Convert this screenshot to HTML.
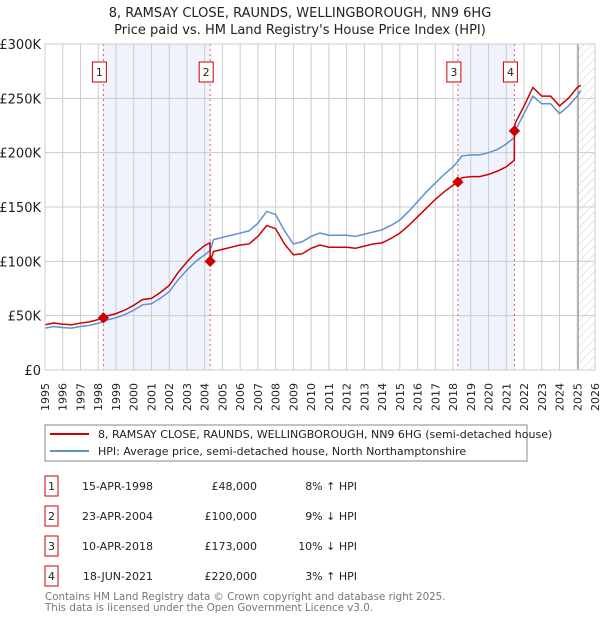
<!DOCTYPE html>
<html><head><meta charset="utf-8"><style>
body{margin:0;background:#fff;font-family:"Liberation Sans","DejaVu Sans",sans-serif;}
svg text{font-family:"DejaVu Sans","Liberation Sans",sans-serif;}
</style></head><body>
<svg id="chart" width="600" height="620" viewBox="0 0 600 620" xmlns="http://www.w3.org/2000/svg">
<defs><pattern id="hatch" width="6" height="6" patternUnits="userSpaceOnUse" patternTransform="rotate(45)"><line x1="0" y1="0" x2="0" y2="6" stroke="#ccc" stroke-width="1"/></pattern></defs>
<text x="300" y="17" text-anchor="middle" font-size="13" fill="#222">8, RAMSAY CLOSE, RAUNDS, WELLINGBOROUGH, NN9 6HG</text>
<text x="300" y="34" text-anchor="middle" font-size="13" fill="#222">Price paid vs. HM Land Registry's House Price Index (HPI)</text>
<g id="plot"></g>
<rect x="45" y="425" width="482" height="36" fill="#fff" stroke="#888"/>
<line x1="50" y1="434" x2="89" y2="434" stroke="#cc0000" stroke-width="2"/>
<text x="98" y="438" font-size="11" fill="#222">8, RAMSAY CLOSE, RAUNDS, WELLINGBOROUGH, NN9 6HG (semi-detached house)</text>
<line x1="50" y1="451" x2="89" y2="451" stroke="#6090d0" stroke-width="2"/>
<text x="98" y="455" font-size="11" fill="#222">HPI: Average price, semi-detached house, North Northamptonshire</text>
<g id="table" font-size="11" fill="#222"></g>
<text x="45" y="600" font-size="10.3" fill="#777">Contains HM Land Registry data © Crown copyright and database right 2025.</text>
<text x="45" y="611" font-size="10.3" fill="#777">This data is licensed under the Open Government Licence v3.0.</text>
</svg>
<script>
const hpiYears=[1995,1995.5,1996,1996.5,1997,1997.5,1998,1998.29,1998.5,1999,1999.5,2000,2000.5,2001,2001.5,2002,2002.5,2003,2003.5,2004,2004.31,2004.5,2005,2005.5,2006,2006.5,2007,2007.5,2008,2008.5,2009,2009.5,2010,2010.5,2011,2011.5,2012,2012.5,2013,2013.5,2014,2014.5,2015,2015.5,2016,2016.5,2017,2017.5,2018,2018.27,2018.5,2019,2019.5,2020,2020.5,2021,2021.46,2021.5,2022,2022.5,2023,2023.5,2024,2024.5,2025,2025.2];
const hpiValues=[38.5,40,39,38.5,40,41,43,44.4,46,48,51,55,60,61,66,72,83,92,100,106,110,120,122,124,126,128,135,146,143,128,116,118,123,126,124,124,124,123,125,127,129,133,138,146,155,164,172,180,187,192,197,198,198,200,203,208,214,220,236,252,245,245,236,243,252,257];
const priceYears=[1995,1995.5,1996,1996.5,1997,1997.5,1998,1998.29,1998.5,1999,1999.5,2000,2000.5,2001,2001.5,2002,2002.5,2003,2003.5,2004,2004.3,2004.31,2004.5,2005,2005.5,2006,2006.5,2007,2007.5,2008,2008.5,2009,2009.5,2010,2010.5,2011,2011.5,2012,2012.5,2013,2013.5,2014,2014.5,2015,2015.5,2016,2016.5,2017,2017.5,2018,2018.27,2018.5,2019,2019.5,2020,2020.5,2021,2021.45,2021.46,2021.5,2022,2022.5,2023,2023.5,2024,2024.5,2025,2025.2];
const priceValues=[41.6,43.2,42.1,41.6,43.2,44.3,46.4,48,49.7,51.9,55.1,59.5,64.9,65.9,71.3,77.8,89.7,99.5,108,114.6,117,100,109,111,113,115,116,123,133,130,116,106,107,112,115,113,113,113,112,114,116,117,121,126,133,141,149,157,164,170,173,177,178,178,180,183,187,193,220,227,243,260,252,252,243,250,260,262];
const saleYears=[1998.29,2004.31,2018.27,2021.46];
const saleValues=[48,100,173,220];
const saleLabels=["1","2","3","4"];
const saleDates=["15-APR-1998","23-APR-2004","10-APR-2018","18-JUN-2021"];
const salePrices=["£48,000","£100,000","£173,000","£220,000"];
const saleDiffs=["8% ↑ HPI","9% ↓ HPI","10% ↓ HPI","3% ↑ HPI"];
const yTicks=[0,50,100,150,200,250,300];
const yTickLabels=["£0","£50K","£100K","£150K","£200K","£250K","£300K"];
const xTicks=[1995,1996,1997,1998,1999,2000,2001,2002,2003,2004,2005,2006,2007,2008,2009,2010,2011,2012,2013,2014,2015,2016,2017,2018,2019,2020,2021,2022,2023,2024,2025,2026];
const dataEnd=2025.05;

const X0=45,X1=595,Y0=370,Y1=44;
const x=v=>X0+(v-1995)/31*(X1-X0);
const y=v=>Y0-v/300*(Y0-Y1);
const NS="http://www.w3.org/2000/svg";
function mk(tag,attrs,parent){const e=document.createElementNS(NS,tag);for(const k in attrs)e.setAttribute(k,attrs[k]);parent.appendChild(e);return e;}
const plot=document.getElementById('plot');
let bg=mk('rect',{x:X0,y:Y1,width:X1-X0,height:Y0-Y1,fill:'#fff'},plot);


for(let i=0;i<saleYears.length;i+=2){
  const r=mk('rect',{x:x(saleYears[i]),y:Y1,width:x(saleYears[i+1])-x(saleYears[i]),height:Y0-Y1,fill:'#eef3fc'},plot);
  
  
}
const h=mk('rect',{x:x(dataEnd),y:Y1,width:X1-x(dataEnd),height:Y0-Y1,fill:'url(#hatch)'},plot);


xTicks.forEach(t=>{
  mk('line',{x1:x(t),y1:Y1,x2:x(t),y2:Y0,stroke:'#ccc','stroke-width':1},plot);
  const tx=mk('text',{x:x(t)+4,y:383,'text-anchor':'end','font-size':11,fill:'#222',transform:`rotate(-90 ${x(t)+4} 383)`},plot);
  tx.textContent=t;
  
  
});
yTicks.forEach((t,i)=>{
  mk('line',{x1:X0,y1:y(t),x2:X1,y2:y(t),stroke:'#ccc','stroke-width':1},plot);
  const tx=mk('text',{x:X0-4,y:y(t)+5,'text-anchor':'end','font-size':13,fill:'#222'},plot);
  tx.textContent=yTickLabels[i];
  
  
});
mk('line',{x1:x(dataEnd),y1:Y1,x2:x(dataEnd),y2:Y0,stroke:'#888','stroke-width':1},plot);
saleYears.forEach((s,i)=>{
  mk('line',{x1:x(s),y1:Y1,x2:x(s),y2:Y0,stroke:'#e06060','stroke-width':1,'stroke-dasharray':'2,3'},plot);
});
const hp=mk('polyline',{points:hpiYears.map((t,i)=>x(t)+','+y(hpiValues[i])).join(' '),fill:'none',stroke:'#6090d0','stroke-width':1.5},plot);


const pp=mk('polyline',{points:priceYears.map((t,i)=>x(t)+','+y(priceValues[i])).join(' '),fill:'none',stroke:'#cc0000','stroke-width':1.5},plot);


saleYears.forEach((s,i)=>{
  const d=mk('rect',{x:x(s)-4,y:y(saleValues[i])-4,width:8,height:8,fill:'#cc0000',transform:`rotate(45 ${x(s)} ${y(saleValues[i])})`},plot);
  
  
  const g=mk('g',{},plot);
  
  
  mk('rect',{x:x(s)-11,y:62,width:14,height:20,fill:'#fff',stroke:'#cc0000'},g);
  const t=mk('text',{x:x(s)-4,y:76,'text-anchor':'middle','font-size':11,fill:'#222'},g);
  t.textContent=saleLabels[i];
});
mk('rect',{x:X0,y:Y1,width:X1-X0,height:Y0-Y1,fill:'none',stroke:'#ccc'},plot);
const tb=document.getElementById('table');
saleLabels.forEach((l,i)=>{
  const cy=486+i*30;
  const row=mk('g',{},tb);
  
  
  mk('rect',{x:45,y:cy-10,width:13,height:20,fill:'#fff',stroke:'#cc0000'},row);
  const a=mk('text',{x:51.5,y:cy+4,'text-anchor':'middle'},row);a.textContent=l;
  const b=mk('text',{x:153,y:cy+4,'text-anchor':'end'},row);b.textContent=saleDates[i];
  const c=mk('text',{x:257,y:cy+4,'text-anchor':'end'},row);c.textContent=salePrices[i];
  const e=mk('text',{x:357,y:cy+4,'text-anchor':'end'},row);e.textContent=saleDiffs[i];
});
</script>
</body></html>
